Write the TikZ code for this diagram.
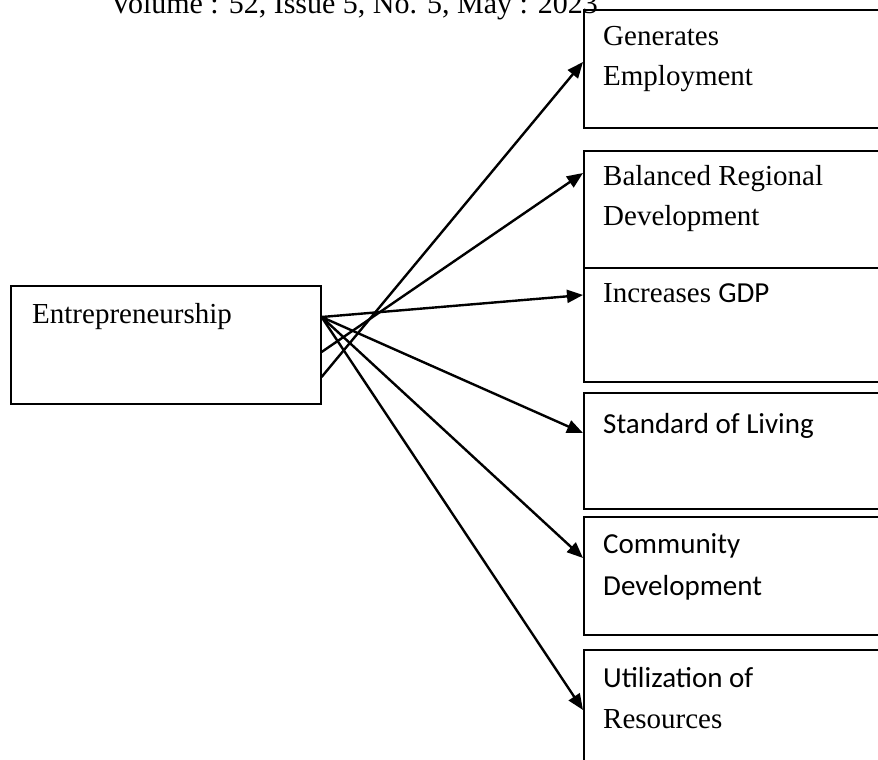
\documentclass[tikz,border=0pt]{standalone}
\usepackage{fontspec}
\setmainfont{Liberation Serif}
\newfontfamily\carlito{Carlito}
\usetikzlibrary{arrows.meta}
\begin{document}
\begin{tikzpicture}[x=1pt,y=-1pt,
  box/.style={draw,line width=1.6pt,inner sep=0pt,anchor=north west},
  lbl/.style={anchor=base west,inner sep=0pt,font=\fontsize{29}{35}\selectfont},
  link/.style={line width=2.4pt,-{Triangle[length=16pt,width=13pt]}}]
\useasboundingbox (0,0) rectangle (878,760);
\clip (0,0) rectangle (878,760);

% running header
\node[lbl,font=\fontsize{30}{36}\selectfont] (hdr) at (110,14) {Volume : 52, Issue 5, No. 5, May : 2023};

% source box
\node[box,minimum width=310pt,minimum height=118pt] (ent) at (10,285) {};
\node[lbl] (entt) at (32,323) {Entrepreneurship};

% outcome boxes
\node[box,minimum width=307pt,minimum height=118pt] (b1) at (583,9) {};
\node[box,minimum width=307pt,minimum height=117pt] (b2) at (583,150) {};
\node[box,minimum width=307pt,minimum height=114pt] (b3) at (583,267) {};
\node[box,minimum width=307pt,minimum height=116pt] (b4) at (583,392) {};
\node[box,minimum width=307pt,minimum height=118pt] (b5) at (583,516) {};
\node[box,minimum width=307pt,minimum height=125pt] (b6) at (583,649) {};

\node[lbl] (t1a) at (603,46) {Generates};
\node[lbl] (t1b) at (603,85) {Employment};
\node[lbl] (t2a) at (603,185) {Balanced Regional};
\node[lbl] (t2b) at (603,225) {Development};
\node[lbl] (t3a) at (603,302) {Increases \carlito GDP};
\node[lbl] (t4a) at (603,433) {\carlito Standard of Living};
\node[lbl] (t5a) at (603,553) {\carlito Community};
\node[lbl] (t5b) at (603,595) {\carlito Development};
\node[lbl] (t6a) at (603,687) {\carlito Utilization of};
\node[lbl] (t6b) at (603,728) {Resources};

% connectors
\draw[link] ([yshift=-92pt]ent.north east) -- ([yshift=-53pt]b1.north west);
\draw[link] ([yshift=-67pt]ent.north east) -- ([yshift=-23pt]b2.north west);
\draw[link] ([yshift=-32pt]ent.north east) -- ([yshift=-28pt]b3.north west);
\draw[link] ([yshift=-32pt]ent.north east) -- ([yshift=-41pt]b4.north west);
\draw[link] ([yshift=-32pt]ent.north east) -- ([yshift=-42pt]b5.north west);
\draw[link] ([yshift=-32pt]ent.north east) -- ([yshift=-61pt]b6.north west);
\end{tikzpicture}
\end{document}
